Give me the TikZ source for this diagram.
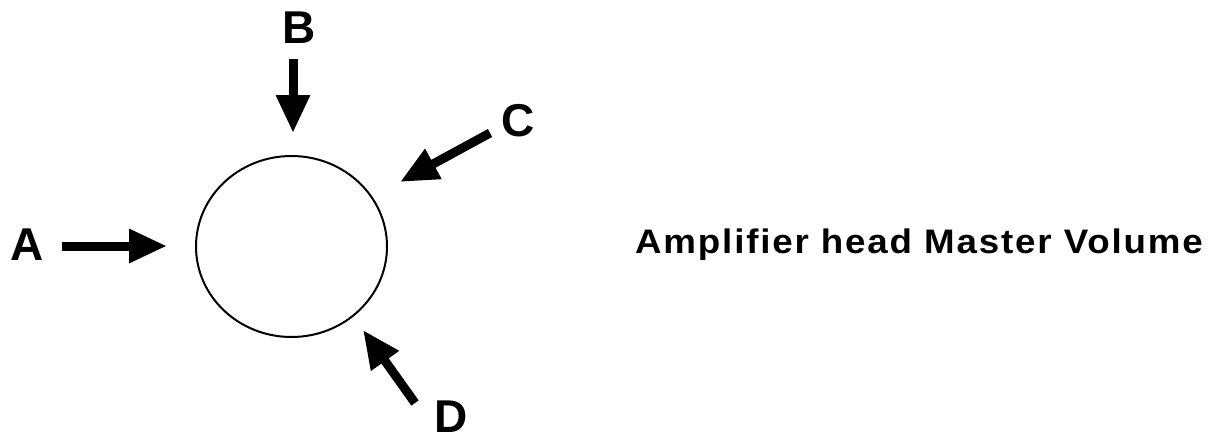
\documentclass[tikz,border=0pt]{standalone}
\usepackage{fontspec}
\setmainfont{Liberation Sans}
\newfontfamily\captionfont[LetterSpace=5]{Liberation Sans}
\usetikzlibrary{arrows.meta,shapes.geometric}
\begin{document}
\begin{tikzpicture}[x=1pt,y=-1pt,
  letter/.style={inner sep=0pt,font=\fontsize{46}{46}\selectfont\bfseries},
  pointer/.style={line width=9pt,-{Triangle[length=38pt,width=32pt]}},
  knobshape/.style={draw,ellipse,line width=2pt,inner sep=0pt,
    minimum width=191pt,minimum height=181pt}]
  \useasboundingbox (0,0) rectangle (1220,442);

  % the control knob
  \node[knobshape] (knob) at (291.5,246.5) {};

  % labels
  \node[letter] (la) at (27,245) {A};
  \node[letter] (lb) at (299,28) {B};
  \node[letter] (lc) at (518,121) {C};
  \node[letter] (ld) at (451,417) {D};

  % arrow tails and tips
  \coordinate (ta) at (62,246);   \coordinate (ha) at (167,246);
  \coordinate (tb) at (293,59);   \coordinate (hb) at (293,133);
  \coordinate (tc) at (490,133);  \coordinate (hc) at (400,182);
  \coordinate (td) at (415,403);  \coordinate (hd) at (363,330);

  \draw[pointer] (ta) -- (ha);
  \draw[pointer] (tb) -- (hb);
  \draw[pointer] (tc) -- (hc);
  \draw[pointer] (td) -- (hd);

  % caption
  \node[inner sep=0pt,anchor=base] (caption) at (919,253)
    {\scalebox{1.08}[1]{\captionfont\fontsize{34}{34}\selectfont\bfseries Amplifier head Master Volume}};
\end{tikzpicture}
\end{document}
